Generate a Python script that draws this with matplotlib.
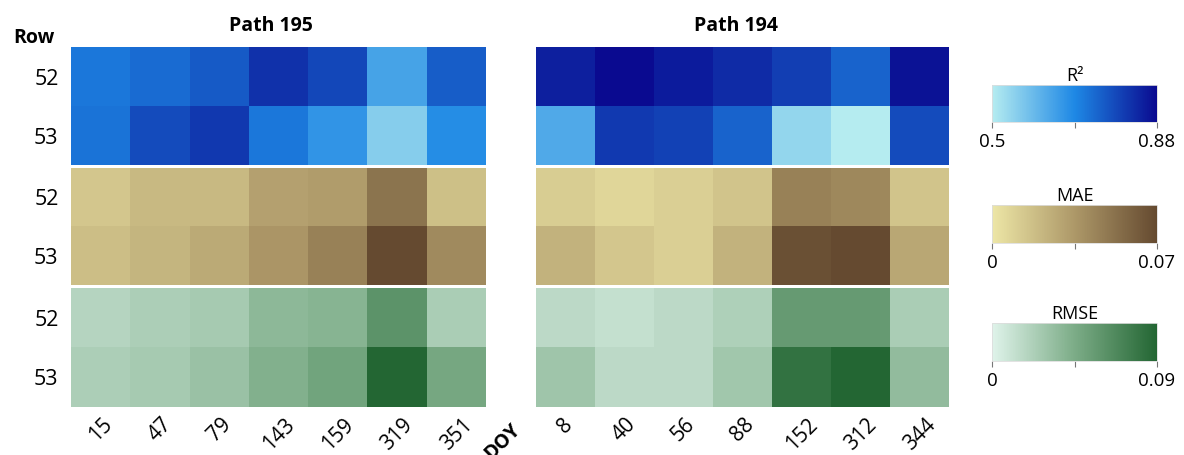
import numpy as np
import matplotlib.pyplot as plt
from matplotlib.colors import LinearSegmentedColormap

plt.rcParams['font.family'] = ['Open Sans', 'DejaVu Sans']

rows = ['52', '53']
doy_195 = ['15', '47', '79', '143', '159', '319', '351']
doy_194 = ['8', '40', '56', '88', '152', '312', '344']

# path 195, rows 52 / 53
r2_195 = [[0.714, 0.732, 0.759, 0.820, 0.787, 0.639, 0.755],
          [0.720, 0.782, 0.810, 0.714, 0.665, 0.559, 0.680]]
mae_195 = [[0.014, 0.020, 0.020, 0.031, 0.033, 0.051, 0.017],
           [0.018, 0.022, 0.027, 0.036, 0.045, 0.070, 0.041]]
rmse_195 = [[0.019, 0.023, 0.026, 0.037, 0.040, 0.061, 0.024],
            [0.023, 0.026, 0.031, 0.042, 0.050, 0.090, 0.048]]

# path 194, rows 52 / 53
r2_194 = [[0.847, 0.880, 0.853, 0.829, 0.800, 0.744, 0.866],
          [0.627, 0.808, 0.796, 0.744, 0.542, 0.500, 0.782]]
mae_194 = [[0.011, 0.007, 0.010, 0.015, 0.045, 0.042, 0.015],
           [0.023, 0.014, 0.010, 0.023, 0.067, 0.070, 0.028]]
rmse_194 = [[0.016, 0.012, 0.016, 0.022, 0.056, 0.056, 0.024],
            [0.029, 0.016, 0.016, 0.028, 0.082, 0.090, 0.035]]

cm_r2 = LinearSegmentedColormap.from_list('r2', ['#b5ecf0', '#1e88e5', '#0a0a90'])
cm_mae = LinearSegmentedColormap.from_list('mae', ['#ede6a6', '#ad9868', '#654a30'])
cm_rmse = LinearSegmentedColormap.from_list('rmse', ['#dff3ea', '#7cac87', '#236633'])

metrics = [
    ('R²', cm_r2, 0.5, 0.88, '0.5', '0.88', r2_195, r2_194),
    ('MAE', cm_mae, 0.0, 0.07, '0', '0.07', mae_195, mae_194),
    ('RMSE', cm_rmse, 0.0, 0.09, '0', '0.09', rmse_195, rmse_194),
]

W, H = 1184, 455
fig = plt.figure(figsize=(W / 100, H / 100), dpi=100)


def box(x0, y0, x1, y1):
    # pixel box (top-left origin) -> figure fraction rect
    return [x0 / W, 1 - y1 / H, (x1 - x0) / W, (y1 - y0) / H]


blocks = [(47, 165), (168, 285), (288, 407)]
panels = [(71, 486, doy_195), (536, 949, doy_194)]
cbars = [(85, 122), (205, 243), (323, 361)]

for i, (name, cmap, vmin, vmax, lo, hi, d195, d194) in enumerate(metrics):
    y0, y1 = blocks[i]
    for j, (x0, x1, doys) in enumerate(panels):
        ax = fig.add_axes(box(x0, y0, x1, y1))
        data = np.array(d195 if j == 0 else d194)
        im = ax.imshow(data, cmap=cmap, vmin=vmin, vmax=vmax, aspect='auto',
                       interpolation='nearest')
        for s in ax.spines.values():
            s.set_visible(False)
        ax.tick_params(length=0)
        if j == 0:
            ax.set_yticks(range(2))
            ax.set_yticklabels(rows, fontsize=15.5)
            ax.tick_params(axis='y', pad=9)
        else:
            ax.set_yticks([])
        if i == 2:
            ax.set_xticks(range(7))
            ax.set_xticklabels(doys, rotation=45, ha='center', va='top',
                               fontsize=15)
            ax.tick_params(axis='x', pad=5)
        else:
            ax.set_xticks([])

    c0, c1 = cbars[i]
    cax = fig.add_axes(box(992, c0, 1157, c1))
    cb = fig.colorbar(im, cax=cax, orientation='horizontal')
    cb.set_ticks([vmin, (vmin + vmax) / 2, vmax])
    cb.set_ticklabels([lo, '', hi])
    cb.outline.set_edgecolor('#dddddd')
    cb.outline.set_linewidth(0.6)
    cax.tick_params(length=4, width=0.8, color='#777777', labelsize=13.5, pad=4)
    cax.set_title(name, fontsize=13, pad=3)

fig.text(271 / W, 1 - 26 / H, 'Path 195', ha='center', va='center',
         fontsize=14, fontweight='bold')
fig.text(736 / W, 1 - 26 / H, 'Path 194', ha='center', va='center',
         fontsize=14, fontweight='bold')
fig.text(34 / W, 1 - 38 / H, 'Row', ha='center', va='center',
         fontsize=14, fontweight='bold')
fig.text(503 / W, 1 - 420 / H, 'DOY', ha='center', va='top', rotation=45,
         fontsize=14, fontweight='bold')

fig.savefig('out.png', dpi=100)
